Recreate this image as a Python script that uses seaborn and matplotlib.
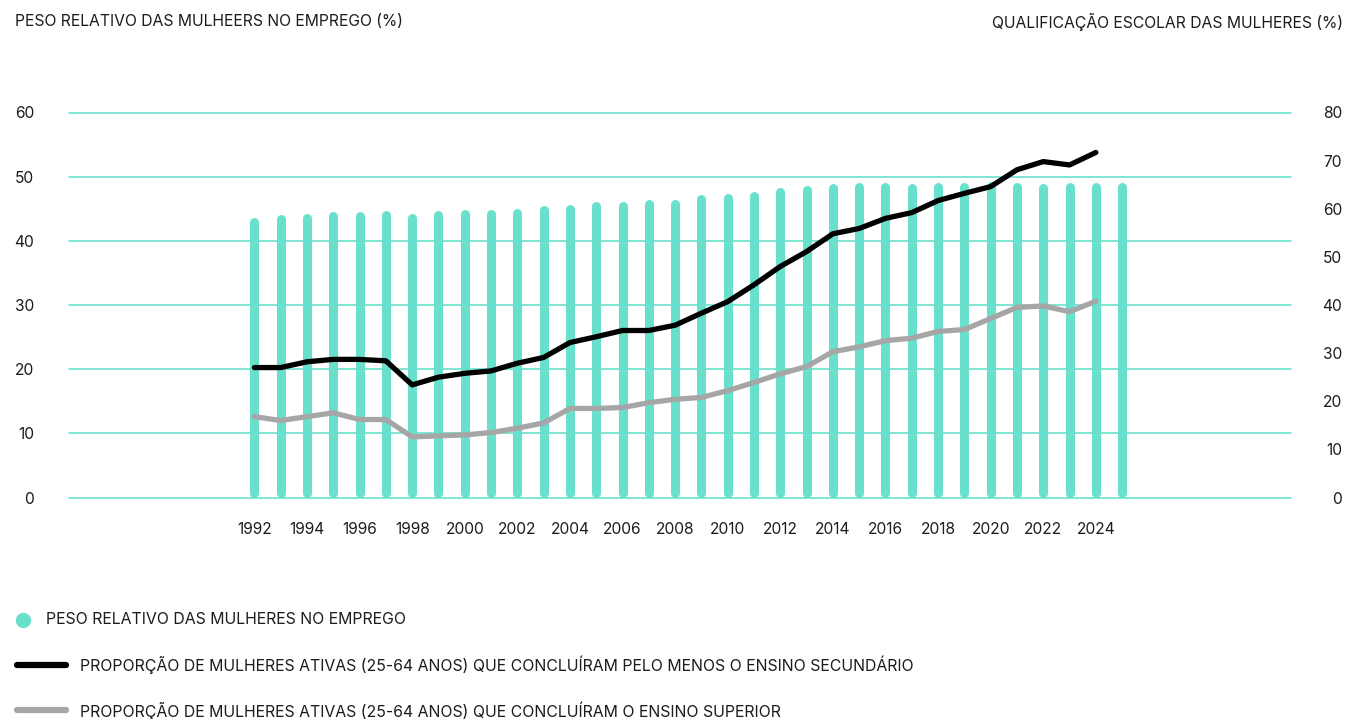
import numpy as np
import pandas as pd
import matplotlib
matplotlib.use("Agg")
import matplotlib.pyplot as plt
from matplotlib.lines import Line2D
import seaborn as sns

# --- data ---
anos_emprego = list(range(1992, 2026))
peso_emprego = [43.7, 44.1, 44.3, 44.5, 44.5, 44.7, 44.3, 44.7, 44.9, 44.9,
                45.1, 45.5, 45.7, 46.2, 46.1, 46.4, 46.5, 47.2, 47.4, 47.7,
                48.3, 48.6, 48.9, 49.1, 49.1, 48.9, 49.1, 49.1, 49.2, 49.1,
                48.9, 49.1, 49.1, 49.1]

anos_qualif = list(range(1992, 2025))
ensino_secundario = [27.0, 27.0, 28.2, 28.7, 28.7, 28.4, 23.4, 25.0, 25.8, 26.3,
                     27.9, 29.1, 32.2, 33.4, 34.7, 34.7, 35.8, 38.3, 40.7, 44.2,
                     48.0, 51.1, 54.8, 55.9, 58.0, 59.2, 61.7, 63.2, 64.6, 68.1,
                     69.8, 69.1, 71.7]
ensino_superior = [16.8, 16.0, 16.8, 17.6, 16.2, 16.2, 12.6, 12.8, 13.0, 13.5,
                   14.4, 15.5, 18.5, 18.5, 18.7, 19.7, 20.4, 20.8, 22.2, 23.9,
                   25.7, 27.2, 30.3, 31.3, 32.6, 33.1, 34.5, 34.9, 37.2, 39.5,
                   39.8, 38.6, 40.8]

x_ticks = list(range(1992, 2025, 2))
left_ticks = [0, 10, 20, 30, 40, 50, 60]
right_ticks = [0, 10, 20, 30, 40, 50, 60, 70, 80]

titulo_esq = "PESO RELATIVO DAS MULHEERS NO EMPREGO (%)"
titulo_dir = "QUALIFICAÇÃO ESCOLAR DAS MULHERES (%)"
legenda = [
    "PESO RELATIVO DAS MULHERES NO EMPREGO",
    "PROPORÇÃO DE MULHERES ATIVAS (25-64 ANOS) QUE CONCLUÍRAM PELO MENOS O ENSINO SECUNDÁRIO",
    "PROPORÇÃO DE MULHERES ATIVAS (25-64 ANOS) QUE CONCLUÍRAM O ENSINO SUPERIOR",
]

TEAL = "#69e0cc"
GRAY = "#a6a6a6"
INK = "#1c1c1c"

sns.set_theme(style="white")
plt.rcParams["font.family"] = ["Inter", "DejaVu Sans"]
plt.rcParams["text.color"] = INK

W, H = 1346, 719
fig = plt.figure(figsize=(W / 100, H / 100), dpi=100)
fig.patch.set_facecolor("white")

ax = fig.add_axes([69 / W, 1 - 497.5 / H, (1290.7 - 69) / W, 385 / H])
ax.set_facecolor("white")
ax2 = ax.twinx()

# horizontal guides on the left scale
for t in left_ticks:
    ax.axhline(t, color=TEAL, linewidth=1.2, zorder=1, clip_on=False)

# bars as thick rounded strokes (cap half-width ~0.7 units on the left scale)
cap = 0.7
ax.vlines(anos_emprego, cap, np.array(peso_emprego) - cap, colors=TEAL,
          linewidths=6.5, capstyle="round", zorder=2)

ax.set_xlim(1984.95, 2031.41)
ax.set_ylim(0, 60)
ax.set_yticks(left_ticks)
ax.set_xticks(x_ticks)
ax.grid(False)

df = pd.DataFrame({
    "ano": anos_qualif * 2,
    "valor": ensino_secundario + ensino_superior,
    "serie": ["sec"] * len(anos_qualif) + ["sup"] * len(anos_qualif),
})
sns.lineplot(data=df, x="ano", y="valor", hue="serie",
             palette={"sec": "black", "sup": GRAY}, linewidth=3.8,
             legend=False, ax=ax2, solid_capstyle="round", solid_joinstyle="round")
ax2.set_ylim(0, 80)
ax2.set_yticks(right_ticks)
ax2.set_xlim(1984.95, 2031.41)
ax2.set_xlabel("")
ax2.set_ylabel("")
ax2.grid(False)

for a in (ax, ax2):
    for s in a.spines.values():
        s.set_visible(False)

tick_fs = 11.2
ax.tick_params(axis="y", length=0, pad=25, labelsize=tick_fs, labelcolor=INK)
ax.tick_params(axis="x", length=0, pad=18, labelsize=tick_fs, labelcolor=INK)
ax2.tick_params(axis="y", length=0, pad=37, labelsize=tick_fs, labelcolor=INK)
for lab in ax2.get_yticklabels():
    lab.set_horizontalalignment("right")

fig.text(15 / W, 1 - 22 / H, titulo_esq, ha="left", va="center", fontsize=11.3)
fig.text(1343 / W, 1 - 22 / H, titulo_dir, ha="right", va="center", fontsize=11.3)

# legend drawn by hand (texts start at different x)
leg_fs = 11.4
fig.add_artist(Line2D([23 / W], [1 - 620 / H], marker="o", markersize=10,
                      color=TEAL, transform=fig.transFigure))
fig.text(46 / W, 1 - 620 / H, legenda[0], ha="left", va="center", fontsize=leg_fs)
fig.add_artist(Line2D([17 / W, 66 / W], [1 - 665 / H] * 2, color="black",
                      linewidth=4.5, solid_capstyle="round", transform=fig.transFigure))
fig.text(80 / W, 1 - 665 / H, legenda[1], ha="left", va="center", fontsize=leg_fs)
fig.add_artist(Line2D([17 / W, 66 / W], [1 - 710 / H] * 2, color=GRAY,
                      linewidth=4.5, solid_capstyle="round", transform=fig.transFigure))
fig.text(80 / W, 1 - 711 / H, legenda[2], ha="left", va="center", fontsize=leg_fs)

fig.savefig("out.png", dpi=100, facecolor="white")
